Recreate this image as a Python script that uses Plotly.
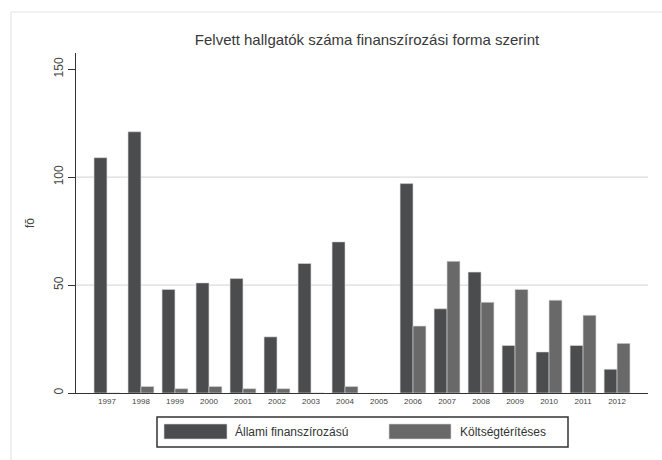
import plotly.graph_objects as go

years = ["1997", "1998", "1999", "2000", "2001", "2002", "2003", "2004",
         "2005", "2006", "2007", "2008", "2009", "2010", "2011", "2012"]
allami = [109, 121, 48, 51, 53, 26, 60, 70, None, 97, 39, 56, 22, 19, 22, 11]
koltseg = [0, 3, 2, 3, 2, 2, 0, 3, None, 31, 61, 42, 48, 43, 36, 23]
series_names = ["Állami finanszírozású", "Költségtérítéses"]
colors = ["#4b4c4e", "#69696a"]
title_text = "Felvett hallgatók száma finanszírozási forma szerint"
y_title = "fõ"
y_ticks = [0, 50, 100, 150]
grid_vals = [50, 100]

FONT = "Liberation Sans"

fig = go.Figure()
for name, vals, col in zip(series_names, [allami, koltseg], colors):
    fig.add_trace(go.Bar(
        x=years, y=vals, name=name,
        marker=dict(color=col, line=dict(color="#d8d8d8", width=0.6)),
        showlegend=False,
    ))

shapes = []
for g in grid_vals:
    shapes.append(dict(type="line", xref="paper", x0=0, x1=1, yref="y", y0=g, y1=g,
                       line=dict(color="#dcdcdc", width=1.2), layer="below"))

# plot area in pixels: x 76..648, y 53..393
def px_x(p):
    return (p - 76) / (648 - 76)

def px_y(p):
    return (393 - p) / (393 - 53)

# outer light frame (left and top)
shapes.append(dict(type="line", xref="paper", yref="paper", x0=px_x(11), x1=px_x(11),
                   y0=px_y(460), y1=px_y(12), line=dict(color="#e6e6e6", width=1.2)))
shapes.append(dict(type="line", xref="paper", yref="paper", x0=px_x(11), x1=px_x(662),
                   y0=px_y(12), y1=px_y(12), line=dict(color="#e6e6e6", width=1.2)))

# custom legend box
shapes.append(dict(type="rect", xref="paper", yref="paper",
                   x0=px_x(157), x1=px_x(568), y0=px_y(447), y1=px_y(417),
                   line=dict(color="#333333", width=1.5), fillcolor="white"))
annotations = []
swatch_x = [(164, 227), (389, 451)]
text_x = [233, 458]
for (a, b), tx, name, col in zip(swatch_x, text_x, series_names, colors):
    shapes.append(dict(type="rect", xref="paper", yref="paper",
                       x0=px_x(a), x1=px_x(b), y0=px_y(439), y1=px_y(424),
                       line=dict(color="#d8d8d8", width=0.6), fillcolor=col))
    annotations.append(dict(xref="paper", yref="paper", x=px_x(tx), y=px_y(431.5),
                            text=name, showarrow=False, xanchor="left", yanchor="middle",
                            font=dict(family=FONT, size=12, color="#333333")))

fig.update_layout(
    width=662, height=460,
    margin=dict(l=76, r=14, t=53, b=67),
    paper_bgcolor="white", plot_bgcolor="white",
    barmode="group", bargap=0.24, bargroupgap=0,
    title=dict(text=title_text, x=367 / 662, xanchor="center",
               y=1 - 40 / 460, yanchor="middle",
               font=dict(family=FONT, size=15, color="#383838")),
    font=dict(family=FONT, color="#333333"),
    xaxis=dict(type="category", range=[-0.91, 15.91], showline=True,
               linecolor="#333333", linewidth=1.3, ticks="", showgrid=False,
               tickfont=dict(size=8, color="#444444"),
               zeroline=False),
    yaxis=dict(range=[0, 157.5], tickvals=y_ticks, ticks="outside", ticklen=7,
               tickcolor="#333333", showline=True, linecolor="#333333",
               linewidth=1.3, showgrid=False, zeroline=False, tickangle=-90,
               tickfont=dict(size=12, color="#444444"),
               title=dict(text=y_title, font=dict(size=12, color="#444444"),
                          standoff=14)),
    shapes=shapes,
    annotations=annotations,
)

fig.write_html("out.html", config={"displayModeBar": False},
               post_script="document.body.style.margin='0';document.body.style.overflow='hidden';")
